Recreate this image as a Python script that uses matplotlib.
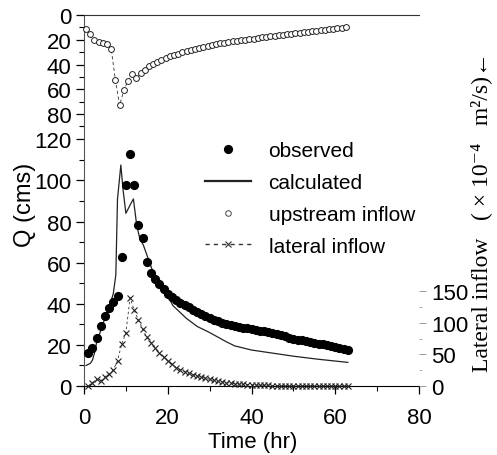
import matplotlib
matplotlib.use("Agg")
import matplotlib.pyplot as plt
from matplotlib.lines import Line2D
from matplotlib.ticker import MultipleLocator, FixedLocator

plt.rcParams['font.family'] = ['Liberation Sans', 'DejaVu Sans']

# ---------------- data ----------------
obs_t = list(range(1, 64))
obs_q = [16, 18.5, 23.5, 29, 34, 38, 41, 44, 63, 98, 113, 98, 78.5, 72, 60.5,
         55, 52, 49.5, 47, 45, 43.5, 42, 40.5, 39.5, 38.5, 37, 36, 35, 34, 33,
         32.3, 31.5, 30.8, 30.2, 29.6, 29.2, 28.8, 28.4, 28, 27.7, 27.3, 27,
         26.6, 26.2, 25.8, 25.3, 24.8, 24.2, 23.5, 23, 22.6, 22.2, 21.8, 21.4,
         21, 20.6, 20.2, 19.8, 19.4, 19, 18.5, 18, 17.5]

calc_t = [0.5, 1.5, 2.0, 2.5, 3.0, 4.0, 5.0, 6.0, 7.0, 7.6, 8.0, 8.8, 9.3, 10.0,
          11.0, 11.8, 12.6, 13.3, 14.2, 16.2, 17.4, 19.6, 21.2, 24.4, 27.0, 30.0,
          34.0, 36.0, 40.0, 44.0, 50.0, 56.0, 63.0]
calc_q = [10, 11, 12.5, 16, 21, 27, 33, 38, 45, 54, 91, 107.5, 96, 84,
          88, 91, 78, 72, 68.4, 57, 52.2, 45.7, 39.2, 33, 29, 26,
          21.5, 19.5, 17.5, 16.3, 14.5, 13, 11.5]

up_t = [0.5 + i for i in range(63)]
up_q = [11, 15, 20, 21.5, 22.5, 23.5, 27.5, 52.5, 73, 61, 53, 47.5, 51, 47,
        44.2, 41.5, 39.6, 37.8, 36.2, 34.6, 33.4, 32.3, 31.2, 30.2, 29.2, 28.2,
        27.2, 26.3, 25.5, 24.8, 24.2, 23.6, 23, 22.4, 21.8, 21.3, 20.8, 20.3,
        19.8, 19.4, 19, 18.5, 18, 17.6, 17.2, 16.8, 16.4, 15.9, 15.5, 15.1,
        14.7, 14.3, 13.9, 13.5, 13.1, 12.7, 12.3, 12, 11.6, 11.2, 10.9, 10.5, 10.1]

lat_t = list(range(1, 64))
lat_q = [0, 5, 10.5, 8, 15, 18.7, 25.5, 40, 66.5, 84, 140, 120, 105, 90.4, 77,
         69, 61, 52, 46, 40, 34.6, 29.3, 26, 23, 20.5, 18, 16, 14, 12, 10.5,
         9, 7.5, 6.5, 5.5, 4.5, 3.8, 3.2, 2.7, 2.2, 1.8, 1.5, 1.2, 1, 0.8, 0.6,
         0.5, 0.4, 0.3, 0.2, 0.2, 0.1, 0.1, 0, 0, 0, 0, 0, 0, 0, 0, 0, 0, 0]

x_ticks = [0, 20, 40, 60, 80]
q_ticks = [0, 20, 40, 60, 80, 100, 120]
up_ticks = [0, 20, 40, 60, 80]
lat_ticks = [0, 50, 100, 150]

# ---------------- figure ----------------
W, H = 497, 456
fig = plt.figure(figsize=(W / 100, H / 100), dpi=100)

def fx(px):
    return px / W

def fy(py):
    return 1 - py / H

x0, x1 = 84, 419
ax = fig.add_axes([fx(x0), fy(387), fx(x1) - fx(x0), fy(128) - fy(387)])
axt = fig.add_axes([fx(x0), fy(128), fx(x1) - fx(x0), fy(16) - fy(128)])
axr = ax.twinx()

TICK_FS = 16

# bottom axes
ax.set_xlim(0, 80)
ax.set_ylim(0, 126)
ax.plot(calc_t, calc_q, color='#222222', lw=0.9, zorder=3)
ax.plot(obs_t, obs_q, 'o', color='black', ms=5.6, zorder=4, clip_on=False)
ax.set_xticks(x_ticks)
ax.set_yticks(q_ticks)
ax.xaxis.set_minor_locator(MultipleLocator(10))
ax.yaxis.set_minor_locator(MultipleLocator(10))
for s in ['top', 'right']:
    ax.spines[s].set_visible(False)
ax.spines['left'].set_color('#555555')
ax.tick_params(axis='both', which='major', labelsize=TICK_FS, length=6, width=0.9, pad=3)
ax.tick_params(axis='both', which='minor', length=3.5, width=0.8)
ax.tick_params(axis='x', pad=9)

# right axis (lateral inflow)
ratio = 150 / 46.0
axr.plot(lat_t, lat_q, color='#333333', lw=0.6, ls=(0, (3, 3)), zorder=2)
axr.plot(lat_t, lat_q, 'x', color='#222222', ms=4.5, mew=0.8, zorder=3, clip_on=False)
axr.set_yticks(lat_ticks)
axr.yaxis.set_minor_locator(FixedLocator([25, 75, 125]))
axr.set_ylim(0, 126 * ratio)
for s in ['top', 'left', 'bottom', 'right']:
    axr.spines[s].set_visible(False)
axr.tick_params(axis='y', which='major', labelsize=TICK_FS, length=5, width=0.7,
                color='#999999', pad=4)
axr.tick_params(axis='y', which='minor', length=2, width=0.7, color='#aaaaaa')

# top axes (upstream inflow, inverted)
axt.set_xlim(0, 80)
axt.set_ylim(90.5, 0)
axt.plot(up_t, up_q, color='#333333', lw=0.6, ls=(0, (4, 3)), zorder=2)
axt.plot(up_t, up_q, 'o', mfc='white', mec='#222222', ms=4.2, mew=0.7, zorder=3, clip_on=False)
axt.set_yticks(up_ticks)
axt.yaxis.set_minor_locator(MultipleLocator(10))
axt.set_xticks([])
axt.patch.set_alpha(0)
for s in ['bottom', 'right']:
    axt.spines[s].set_visible(False)
axt.spines['top'].set_color('#333333')
axt.spines['left'].set_color('#555555')
axt.tick_params(axis='y', which='major', labelsize=TICK_FS, length=6, width=0.9, pad=3)
axt.tick_params(axis='y', which='minor', length=3.5, width=0.8)

# labels
fig.text(fx(25), fy(205), 'Q (cms)', rotation=90, ha='center', va='center', fontsize=17)
fig.text(fx(253), fy(443), 'Time (hr)', ha='center', va='center', fontsize=16)
fig.text(fx(481), fy(212), 'Lateral inflow   ( \u00d7 10\u207b\u2074   m\u00b2/s)\u2190',
         rotation=90, ha='center', va='center', fontsize=17,
         family=['Liberation Serif', 'DejaVu Serif'])

# legend
handles = [
    Line2D([], [], ls='none', marker='o', color='black', ms=5.6),
    Line2D([], [], color='#222222', lw=1.6),
    Line2D([], [], ls='none', marker='o', mfc='white', mec='#444444', ms=4, mew=0.7),
    Line2D([], [], color='#333333', lw=1.0, ls=(0, (3, 3)), marker='x', ms=5, mew=0.8),
]
labels = ['observed', 'calculated', 'upstream inflow', 'lateral inflow']
ax.legend(handles, labels, loc='upper left', bbox_to_anchor=(fx(205), fy(142)),
          bbox_transform=fig.transFigure, frameon=False, fontsize=15,
          borderpad=0, borderaxespad=0, handlelength=2.2, handletextpad=0.85,
          labelspacing=0.62)

fig.savefig('out.png', dpi=100)
